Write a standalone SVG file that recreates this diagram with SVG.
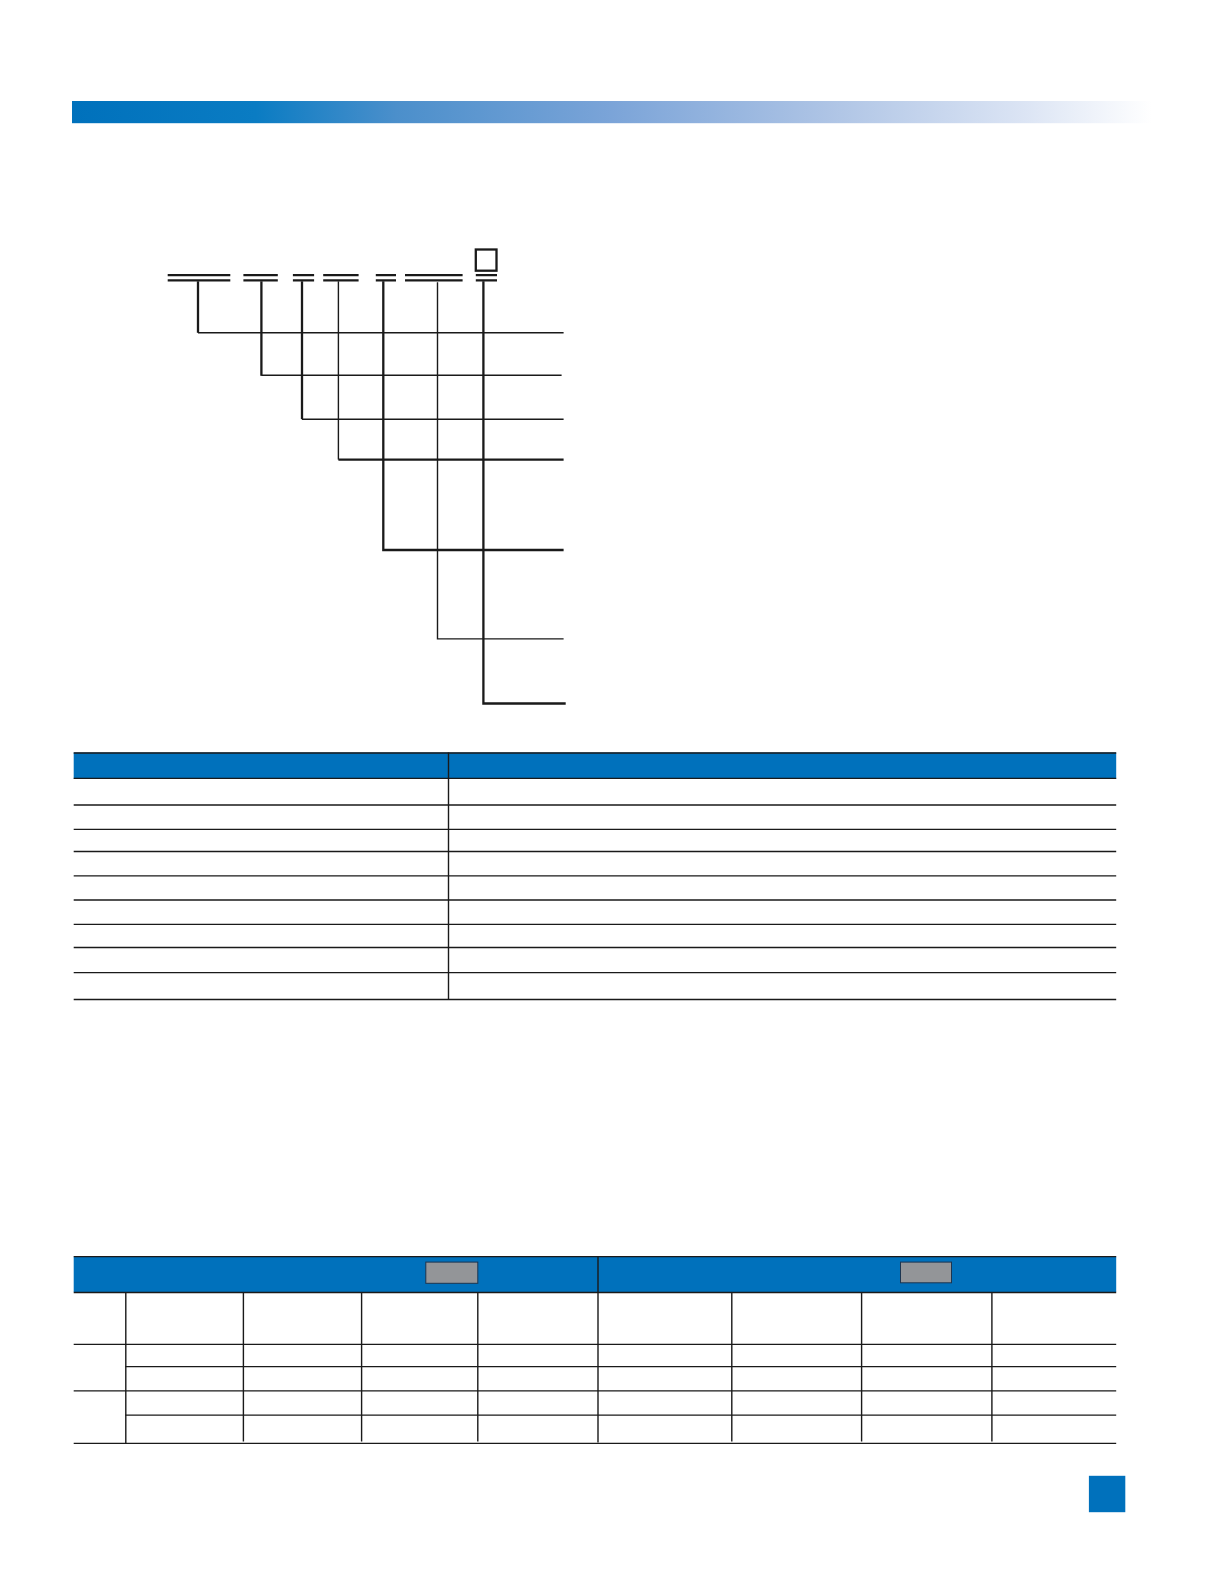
<svg xmlns="http://www.w3.org/2000/svg" width="1224" height="1584" viewBox="0 0 1224 1584">
<style>
.l{stroke:#1a1a1a;fill:none}
.t{stroke-width:1.4}
.m{stroke-width:1.3}
.k{stroke-width:2.3}
.h{fill:#0071bc}
.g{fill:#939598;stroke:#1c3550;stroke-width:1}
</style>
<defs>
<linearGradient id="bar" x1="0" x2="1" y1="0" y2="0">
<stop offset="0" stop-color="#0071bc"/>
<stop offset="0.17" stop-color="#0a7cc3"/>
<stop offset="0.3" stop-color="#4b8fcb"/>
<stop offset="0.5" stop-color="#7ba4d8"/>
<stop offset="0.7" stop-color="#aec4e5"/>
<stop offset="0.88" stop-color="#dbe4f4"/>
<stop offset="1" stop-color="#ffffff"/>
</linearGradient>
</defs>
<rect width="1224" height="1584" fill="#fff"/>
<rect id="title-bar" x="72" y="101" width="1080" height="22.2" fill="url(#bar)"/>
<g id="code-segments" class="l k">
<path d="M167.700 275.200H230.300M167.700 280.300H230.300"/>
<path d="M243.400 275.200H277.800M243.400 280.300H277.800"/>
<path d="M292.900 275.200H314.100M292.900 280.300H314.100"/>
<path d="M323.200 275.200H358.600M323.200 280.300H358.600"/>
<path d="M375.800 275.200H396M375.800 280.300H396"/>
<path d="M405 275.200H462.600M405 280.300H462.600"/>
<path d="M475.800 275.200H497M475.800 280.300H497"/>
</g>
<g id="code-box"><rect x="475.800" y="249.500" width="20.700" height="21.200" class="l k"/></g>
<g id="connectors" class="l">
<path class="k" d="M198 281.300V332.800"/><path class="t" d="M198 332.800H563.600"/>
<path class="k" d="M261.400 281.300V375.800"/><path class="t" d="M261.400 375.300H561.600"/>
<path class="k" d="M302 281.300V419.200"/><path class="t" d="M302 419.200H563.600"/>
<path class="t" d="M338.400 281.300V459.600"/><path class="k" d="M338.400 459.600H563.600"/>
<path class="k" d="M383.300 281.300V550H563.600"/>
<path class="t" d="M437.500 282.300V638.900H563.600"/>
<path class="k" d="M483.400 281.300V703.500H565.700"/>
</g>
<g id="spec-table">
<rect class="h" x="73.700" y="752.500" width="1042.500" height="26.300"/>
<path class="l m" d="M73.700 753H1116.200M73.700 778.300H1116.200M73.700 805H1116.200M73.700 829.300H1116.200M73.700 851.500H1116.200M73.700 875.800H1116.200M73.700 900H1116.200M73.700 924.300H1116.200M73.700 947.500H1116.200M73.700 972.700H1116.200M73.700 999.500H1116.200"/>
<path class="l t" d="M448.500 752.500V1000"/>
</g>
<g id="data-table">
<rect class="h" x="73.700" y="1256.600" width="1042.500" height="35.400"/>
<path class="l m" d="M73.700 1256.600H1116.200M73.700 1292.500H1116.200M73.700 1344.400H1116.200M125.200 1366.700H1116.200M73.700 1390.900H1116.200M125.200 1415.200H1116.200M73.700 1443.400H1116.200"/>
<path class="l t" d="M598 1256.600V1442.500M125.800 1292V1443.400M243.400 1292V1441.400M361.600 1292V1441.400M477.800 1292V1441.400M731.800 1292V1441.400M861.600 1292V1441.400M991.900 1292V1441.400"/>
<rect class="g" x="425.800" y="1262.100" width="52" height="21.200"/>
<rect class="g" x="900.500" y="1262.100" width="51" height="20.700"/>
</g>
<rect id="page-tab" class="h" x="1088.900" y="1475.800" width="36.400" height="36.400"/>
</svg>
